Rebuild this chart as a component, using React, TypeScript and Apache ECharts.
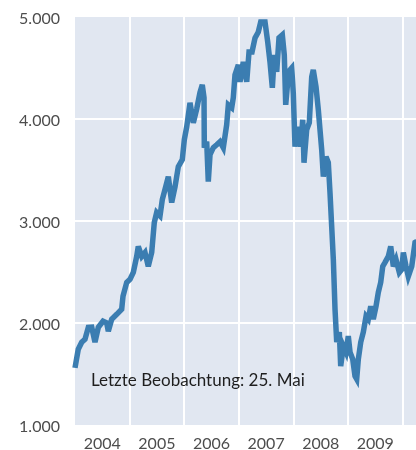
import React, { useEffect, useRef } from "react";
import * as echarts from "echarts";

// Decimal years (x) and index values (y)
const years = [
  2004.0, 2004.06, 2004.123, 2004.183, 2004.244, 2004.306, 2004.366, 2004.427, 2004.513, 2004.581,
  2004.61, 2004.672, 2004.764, 2004.855, 2004.879, 2004.947, 2005.007, 2005.068, 2005.13, 2005.159,
  2005.222, 2005.282, 2005.342, 2005.405, 2005.452, 2005.496, 2005.557, 2005.599, 2005.648, 2005.709,
  2005.771, 2005.832, 2005.892, 2005.965, 2006.002, 2006.046, 2006.106, 2006.167, 2006.229, 2006.289,
  2006.331, 2006.363, 2006.368, 2006.412, 2006.441, 2006.473, 2006.533, 2006.595, 2006.656, 2006.716,
  2006.778, 2006.808, 2006.87, 2006.899, 2006.93, 2006.991, 2007.022, 2007.082, 2007.145, 2007.187,
  2007.242, 2007.297, 2007.357, 2007.401, 2007.48, 2007.529, 2007.571, 2007.614, 2007.65, 2007.694,
  2007.736, 2007.797, 2007.833, 2007.859, 2007.907, 2007.938, 2007.969, 2007.998, 2008.029, 2008.09,
  2008.134, 2008.17, 2008.194, 2008.243, 2008.291, 2008.335, 2008.364, 2008.414, 2008.456, 2008.518,
  2008.548, 2008.597, 2008.639, 2008.67, 2008.701, 2008.731, 2008.762, 2008.793, 2008.841, 2008.866,
  2008.914, 2008.963, 2009.005, 2009.037, 2009.086, 2009.128, 2009.159, 2009.189, 2009.233, 2009.28,
  2009.33, 2009.372, 2009.416, 2009.463, 2009.513, 2009.555, 2009.599, 2009.636, 2009.678, 2009.738,
  2009.782, 2009.83, 2009.879, 2009.94, 2009.984, 2010.013, 2010.062, 2010.104, 2010.167, 2010.227,
  2010.26,
];

const values = [
  1560, 1743, 1812, 1841, 1958, 1960, 1812, 1958, 2017, 2000,
  1920, 2037, 2085, 2135, 2262, 2398, 2428, 2496, 2653, 2751,
  2653, 2692, 2555, 2692, 2985, 3083, 3050, 3210, 3308, 3435,
  3181, 3337, 3533, 3601, 3797, 3924, 4159, 3963, 4100, 4260,
  4335, 4208, 3719, 3778, 3386, 3651, 3719, 3748, 3778, 3719,
  3944, 4139, 4110, 4208, 4433, 4531, 4364, 4560, 4364, 4658,
  4658, 4795, 4853, 4951, 4951, 4756, 4560, 4306, 4628, 4462,
  4795, 4824, 4628, 4139, 4433, 4482, 4501, 4250, 3729, 3924,
  3729, 3993, 3572, 3895, 3963, 4413, 4482, 4315, 4090, 3699,
  3435, 3631, 3572, 3279, 2946, 2623, 2134, 1812, 1910, 1577,
  1773, 1714, 1871, 1714, 1646, 1479, 1450, 1646, 1812, 1910,
  2066, 2037, 2164, 2037, 2164, 2301, 2399, 2555, 2594, 2653,
  2751, 2555, 2623, 2496, 2525, 2692, 2555, 2457, 2555, 2790,
  2800,
];

const yTicks = [1000, 2000, 3000, 4000, 5000];
const xStart = 2004;
const xEnd = 2010.245;
const note = "Letzte Beobachtung: 25. Mai";

const FONT = "Lato, 'DejaVu Sans', sans-serif";

export default function App() {
  const ref = useRef<HTMLDivElement>(null);

  useEffect(() => {
    if (!ref.current) return;
    const chart = echarts.init(ref.current, undefined, { renderer: "svg" });
    const data = years.map((y, i) => [y, values[i]]);
    chart.setOption({
      animation: false,
      grid: {
        left: 75,
        right: 0,
        top: 17,
        bottom: 24,
        show: true,
        backgroundColor: "#E1E7F1",
        borderWidth: 0,
      },
      xAxis: [
        {
          type: "value",
          min: xStart,
          max: xEnd,
          interval: 1,
          axisLine: { show: false },
          axisTick: { show: false },
          axisLabel: { show: false },
          splitLine: {
            show: true,
            showMinLine: false,
            showMaxLine: false,
            lineStyle: { color: "#ffffff", width: 2 },
          },
        },
        {
          type: "value",
          min: xStart,
          max: xEnd,
          interval: 0.5,
          position: "bottom",
          axisLine: { show: false },
          axisTick: { show: false },
          splitLine: { show: false },
          axisLabel: {
            show: true,
            margin: 9,
            fontFamily: FONT,
            fontSize: 16,
            color: "#4d4d4d",
            showMaxLabel: false,
            formatter: (v: number) => {
              const f = v - Math.floor(v);
              return Math.abs(f - 0.5) < 1e-6 ? String(Math.floor(v)) : "";
            },
          },
        },
      ],
      yAxis: {
        type: "value",
        min: yTicks[0],
        max: yTicks[yTicks.length - 1],
        interval: 1000,
        axisLine: { show: false },
        axisTick: { show: false },
        axisLabel: {
          margin: 15,
          fontFamily: FONT,
          fontSize: 16,
          color: "#4d4d4d",
          formatter: (v: number) => v.toLocaleString("de-DE"),
        },
        splitLine: {
          show: true,
          showMinLine: false,
          showMaxLine: false,
          lineStyle: { color: "#ffffff", width: 2 },
        },
      },
      graphic: [
        {
          type: "text",
          left: 91,
          top: 371,
          z: 100,
          style: {
            text: note,
            fontFamily: FONT,
            fontSize: 17,
            fill: "#1e1e1e",
          },
        },
      ],
      series: [
        {
          type: "line",
          xAxisIndex: 0,
          data,
          showSymbol: false,
          symbol: "none",
          lineStyle: { color: "#3B7DB1", width: 5.5, join: "miter" },
          clip: true,
        },
      ],
    });
    return () => chart.dispose();
  }, []);

  return (
    <div
      ref={ref}
      style={{ position: "fixed", left: 0, top: 0, width: 416, height: 450 }}
    />
  );
}
